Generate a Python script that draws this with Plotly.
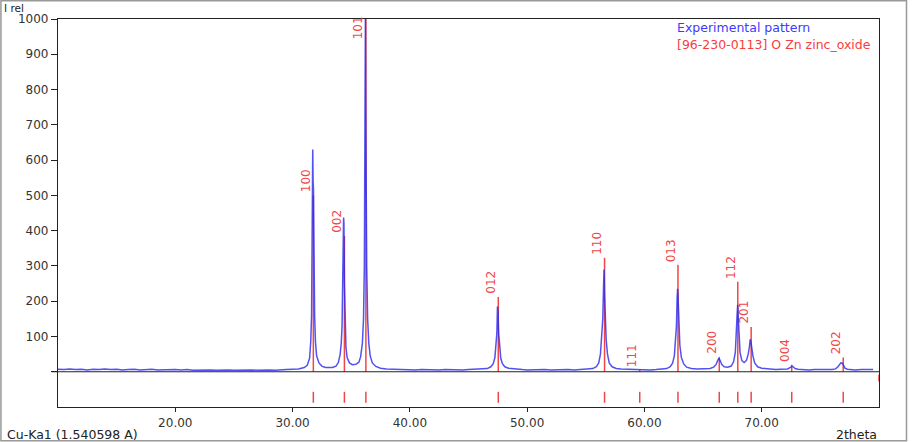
import plotly.graph_objects as go

# ---- Experimental pattern (2theta, I rel) ----
exp_x = [10.0, 10.5, 11.0, 11.5, 12.0, 12.5, 13.0, 13.5, 14.0, 14.5, 15.0, 15.5, 16.0, 16.5,
         17.0, 17.5, 18.0, 18.5, 19.0, 19.5, 20.0, 20.5, 21.0, 21.5, 22.0, 22.5, 23.0, 23.5,
         24.0, 24.5, 25.0, 25.5, 26.0, 26.5, 27.0, 27.5, 28.0, 28.5, 29.0, 29.5, 30.0, 30.5,
         31.0, 31.25, 31.45, 31.55, 31.62, 31.67, 31.7, 31.72, 31.73, 31.75, 31.78, 31.82,
         31.88, 31.95, 32.05, 32.25, 32.5, 32.8, 33.1, 33.4, 33.7, 33.9, 34.05, 34.15, 34.22,
         34.28, 34.32, 34.35, 34.38, 34.42, 34.47, 34.55, 34.65, 34.85, 35.1, 35.4, 35.65,
         35.8, 35.95, 36.05, 36.12, 36.16, 36.19, 36.21, 36.24, 36.27, 36.32, 36.4, 36.5,
         36.62, 36.8, 37.1, 37.5, 38.0, 38.5, 39.0, 39.5, 40.0, 40.5, 41.0, 41.5, 42.0, 42.5,
         43.0, 43.5, 44.0, 44.5, 45.0, 45.5, 46.0, 46.3, 46.6, 46.9, 47.1, 47.25, 47.35,
         47.42, 47.47, 47.52, 47.57, 47.64, 47.75, 47.9, 48.1, 48.4, 48.8, 49.2, 49.6, 50.0,
         50.5, 51.0, 51.5, 52.0, 52.5, 53.0, 53.5, 54.0, 54.5, 55.0, 55.3, 55.6, 55.9, 56.1,
         56.25, 56.35, 56.45, 56.52, 56.56, 56.6, 56.66, 56.74, 56.85, 57.0, 57.25, 57.6,
         58.0, 58.5, 59.0, 59.5, 60.0, 60.5, 61.0, 61.5, 61.9, 62.2, 62.4, 62.55, 62.65,
         62.73, 62.79, 62.83, 62.87, 62.93, 63.02, 63.15, 63.35, 63.6, 64.0, 64.5, 65.0,
         65.3, 65.6, 65.9, 66.1, 66.25, 66.35, 66.45, 66.6, 66.8, 67.1, 67.4, 67.6, 67.75,
         67.84, 67.9, 67.95, 68.0, 68.06, 68.15, 68.3, 68.5, 68.7, 68.85, 68.95, 69.02,
         69.08, 69.14, 69.25, 69.4, 69.65, 70.0, 70.4, 70.8, 71.2, 71.6, 72.0, 72.2, 72.45,
         72.58, 72.68, 72.85, 73.1, 73.5, 74.0, 74.5, 75.0, 75.5, 76.0, 76.3, 76.5, 76.75,
         76.88, 76.98, 77.1, 77.3, 77.6, 78.0, 78.5, 79.0, 79.5, 80.0]
exp_y = [7, 6, 8, 6, 7, 5, 7, 6, 8, 6, 7, 5, 6, 7,
         5, 6, 7, 5, 6, 5, 6, 5, 6, 4, 5, 6, 5, 4,
         5, 5, 4, 5, 4, 5, 4, 5, 5, 4, 6, 6, 7, 8,
         12, 18, 38, 85, 160, 330, 520, 630, 500, 540, 520, 330,
         160, 85, 45, 25, 16, 12, 11, 12, 16, 26, 48, 80, 130,
         250, 280, 437, 420, 250, 130, 70, 40, 25, 20, 21, 27,
         42, 80, 150, 300, 520, 740, 1000, 740, 520, 300, 150, 80,
         45, 25, 15, 10, 8, 7, 6, 7, 6, 5, 6, 5, 6, 5,
         6, 5, 6, 5, 6, 7, 6, 7, 9, 14, 22, 40, 70,
         110, 185, 170, 110, 70, 38, 22, 14, 10, 8, 7, 6, 5,
         6, 5, 6, 5, 6, 5, 6, 5, 6, 6, 7, 9, 14, 25,
         50, 90, 150, 250, 290, 220, 150, 90, 50, 25, 14, 9,
         8, 7, 6, 7, 6, 5, 6, 7, 9, 14, 24, 45, 80,
         130, 210, 235, 210, 130, 75, 40, 22, 13, 9, 8, 8,
         8, 9, 13, 20, 32, 38, 32, 20, 14, 13, 16, 28, 55,
         100, 160, 190, 150, 100, 55, 32, 26, 32, 50, 70, 92,
         85, 70, 45, 25, 14, 10, 8, 7, 6, 7, 7, 8, 12,
         16, 14, 9, 7, 6, 5, 6, 5, 6, 6, 8, 14,
         25, 24, 15, 10, 7, 6, 5, 6, 5, 6]

# ---- Reference pattern [96-230-0113] O Zn zinc_oxide ----
ref_pos = [31.77, 34.42, 36.25, 47.54, 56.60, 59.60, 62.86, 66.38, 67.96, 69.10, 72.56, 76.95]
ref_int = [500, 385, 1000, 212, 323, 5, 303, 42, 255, 127, 20, 40]
ref_hkl = ["100", "002", "101", "012", "110", "111", "013", "200", "112", "201", "004", "202"]
edge_marker_pos = [80.0]

x_ticks = [20, 30, 40, 50, 60, 70]
x_ticktext = ["20.00", "30.00", "40.00", "50.00", "60.00", "70.00"]
y_ticks = [0, 100, 200, 300, 400, 500, 600, 700, 800, 900, 1000]
y_ticktext = ["", "100", "200", "300", "400", "500", "600", "700", "800", "900", "1000"]

RED = "rgb(240,70,70)"
BLUE = "rgb(40,40,240)"

fig = go.Figure()

# reference sticks
sx, sy = [], []
for p, h in zip(ref_pos, ref_int):
    sx += [p, p, None]
    sy += [0, h, None]
fig.add_trace(go.Scatter(x=sx, y=sy, mode="lines", line=dict(color=RED, width=1.5),
                         hoverinfo="skip", showlegend=False))
# bottom position markers
bx, by = [], []
for p in ref_pos:
    bx += [p, p, None]
    by += [-57, -88, None]
for p in edge_marker_pos:
    bx += [p, p, None]
    by += [-8, -28, None]
fig.add_trace(go.Scatter(x=bx, y=by, mode="lines", line=dict(color=RED, width=1.5),
                         hoverinfo="skip", showlegend=False, cliponaxis=False))
# experimental
fig.add_trace(go.Scatter(x=exp_x, y=exp_y, mode="lines",
                         line=dict(color=BLUE, width=1.5), opacity=0.8, showlegend=False))

# hkl labels
for p, h, t in zip(ref_pos, ref_int, ref_hkl):
    fig.add_annotation(x=p, y=min(h, 935), text=t, textangle=-90, showarrow=False,
                       xanchor="right", yanchor="bottom", xshift=2, yshift=1,
                       font=dict(family="DejaVu Sans", size=12, color=RED))

# zero line
fig.add_shape(type="line", xref="paper", yref="y", x0=-0.008, x1=1, y0=0, y1=0,
              line=dict(color="#222", width=1.2))

# outer border of the picture
fig.add_shape(type="rect", xref="paper", yref="paper", x0=-0.0695, x1=1.0335,
              y0=-0.087, y1=1.047, line=dict(color="#999", width=1.5), layer="below")

font_tick = dict(family="DejaVu Sans", size=12, color="#333")
fig.add_annotation(xref="paper", yref="paper", x=-0.068, y=1.049, text="I rel",
                   showarrow=False, xanchor="left", yanchor="top",
                   font=dict(family="DejaVu Sans", size=10.5, color="#222"))
fig.add_annotation(xref="paper", yref="paper", x=-0.064, y=-0.0696, text="Cu-Ka1 (1.540598 A)",
                   showarrow=False, xanchor="left", yanchor="middle",
                   font=dict(family="DejaVu Sans", size=12.5, color="#222"))
fig.add_annotation(xref="paper", yref="paper", x=1.0, y=-0.0696, text="2theta",
                   showarrow=False, xanchor="right", yanchor="middle",
                   font=dict(family="DejaVu Sans", size=12.5, color="#222"))
fig.add_annotation(xref="paper", yref="paper", x=0.751, y=0.977, text="Experimental pattern",
                   showarrow=False, xanchor="left", yanchor="middle",
                   font=dict(family="DejaVu Sans", size=12.5, color="rgb(60,60,250)"))
fig.add_annotation(xref="paper", yref="paper", x=0.751, y=0.933,
                   text="[96-230-0113] O Zn zinc_oxide",
                   showarrow=False, xanchor="left", yanchor="middle",
                   font=dict(family="DejaVu Sans", size=12.5, color="rgb(250,60,60)"))

fig.update_layout(
    width=913, height=442,
    margin=dict(l=58, r=34, t=19, b=35),
    paper_bgcolor="white", plot_bgcolor="white",
    xaxis=dict(range=[10, 80], tickvals=x_ticks, ticktext=x_ticktext, ticks="outside",
               ticklen=4, tickcolor="#222", showgrid=False, zeroline=False,
               showline=True, linecolor="#222", linewidth=1.3, mirror=True,
               tickfont=font_tick),
    yaxis=dict(range=[-100, 1000], tickvals=y_ticks, ticktext=y_ticktext, ticks="outside",
               ticklen=6, tickcolor="#222", showgrid=False, zeroline=False,
               showline=True, linecolor="#222", linewidth=1.3, mirror=True,
               tickfont=font_tick),
    showlegend=False,
)

fig.write_html("out.html")
